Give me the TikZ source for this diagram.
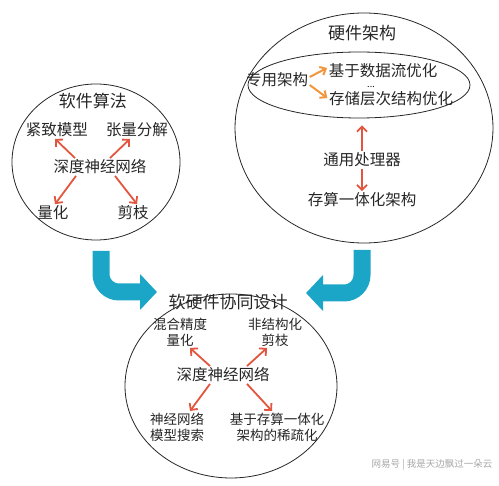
\documentclass[tikz,border=0pt]{standalone}
\usepackage{fontspec}
\setmainfont{Noto Sans CJK SC}
\usetikzlibrary{shapes.geometric,arrows.meta}
\definecolor{flowblue}{RGB}{27,166,200}
\definecolor{arrred}{RGB}{226,85,63}
\definecolor{arrorange}{RGB}{240,150,60}

\begin{document}
\begin{tikzpicture}[x=1pt,y=-1pt,
		label/.style={font=\fontsize{15.5}{17}\selectfont,text=black!85,inner sep=1.5pt},
		title/.style={font=\fontsize{17}{19}\selectfont,text=black!85,inner sep=1.5pt},
		small/.style={font=\fontsize{13.5}{16}\selectfont,text=black!85,align=center,inner sep=1.5pt},
		bubble/.style={draw=black!85,line width=0.8pt,ellipse,inner sep=0pt},
		redarr/.style={draw=arrred,line width=1.8pt,-{Straight Barb[length=5pt,width=10pt]}},
		orgarr/.style={draw=arrorange,line width=2pt,-{Straight Barb[length=5pt,width=9pt]}},
		flow/.style={draw=flowblue,line width=17pt,rounded corners=18pt,-{Triangle[length=17pt,width=35pt]}}]
		\useasboundingbox (0,0) rectangle (499,486);

		\node[bubble,minimum width=168pt,minimum height=156pt] (software) at (96,162) {};
		\node[title] (softtitle) at (93,101) {软件算法};
		\node[label] (compact) at (57,130) {紧致模型};
		\node[label] (tensor) at (137,130) {张量分解};
		\node[label] (dnn1) at (100,167) {深度神经网络};
		\node[label] (quant) at (53,213) {量化};
		\node[label] (prune) at (133,213) {剪枝};
		\draw[redarr] ([xshift=-25pt]dnn1.north) -- ([xshift=-2pt]compact.south);
		\draw[redarr] ([xshift=10pt]dnn1.north) -- ([xshift=-7pt]tensor.south);
		\draw[redarr] ([xshift=-24pt]dnn1.south) -- ([xshift=2pt]quant.north);
		\draw[redarr] ([xshift=15pt]dnn1.south) -- ([xshift=4pt]prune.north);

		\node[bubble,minimum width=258pt,minimum height=230pt] (hardware) at (364,128) {};
		\node[bubble,minimum width=222pt,minimum height=66pt] (special) at (359,85) {};
		\node[title] (hardtitle) at (362,33) {硬件架构};
		\node[label] (spec) at (277,80) {专用架构};
		\node[label] (dataflow) at (383,71) {基于数据流优化};
		\node[font=\fontsize{9}{10}\selectfont,inner sep=0pt] (dots) at (371,87) {...};
		\node[label] (storage) at (391,99) {存储层次结构优化};
		\node[label] (gpu) at (362,160) {通用处理器};
		\node[label] (cim) at (362,200) {存算一体化架构};
		\draw[orgarr] ([yshift=3pt]spec.east) -- ([yshift=3pt]dataflow.west);
		\draw[orgarr] ([yshift=-5pt]spec.east) -- ([yshift=1pt]storage.west);
		\draw[redarr,shorten >=7pt] (gpu.north) -- (gpu.north |- special.south);
		\draw[redarr] (gpu.south) -- (cim.north);

		\node[bubble,minimum width=212pt,minimum height=184pt] (codesign) at (231,386) {};
		\node[title] (cotitle) at (228,302) {软硬件协同设计};
		\node[small] (mixed) at (180,332) {混合精度\\量化};
		\node[small] (unstruct) at (275,332) {非结构化\\剪枝};
		\node[label] (dnn3) at (223,375) {深度神经网络};
		\node[small] (nas) at (177,427) {神经网络\\模型搜索};
		\node[small] (sparse) at (277,427) {基于存算一体化\\架构的稀疏化};
		\draw[redarr] ([xshift=-13pt]dnn3.north) -- ([xshift=10pt]mixed.south);
		\draw[redarr] ([xshift=24pt]dnn3.north) -- ([xshift=-8pt]unstruct.south);
		\draw[redarr] ([xshift=-13pt]dnn3.south) -- ([xshift=13pt]nas.north);
		\draw[redarr] ([xshift=24pt]dnn3.south) -- ([xshift=-5pt]sparse.north);

		\coordinate (leftstart) at (101,251);
		\coordinate (leftend) at (157,292);
		\coordinate (rightstart) at (362,250);
		\coordinate (rightend) at (306,293);
		\draw[flow] (leftstart) |- (leftend);
		\draw[flow] (rightstart) |- (rightend);

		\node[font=\fontsize{9.5}{11}\selectfont,text=black!35] (mark) at (432,465) {网易号 | 我是天边飘过一朵云};
	\end{tikzpicture}
\end{document}
